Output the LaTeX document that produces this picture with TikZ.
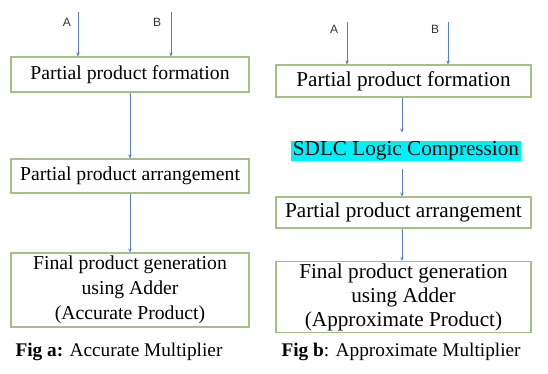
\documentclass[tikz,border=0pt]{standalone}
\usepackage{fontspec}
\setmainfont{Liberation Serif}
\newfontfamily\labelfont{Liberation Sans}
\usetikzlibrary{arrows.meta}
\definecolor{boxgreen}{RGB}{165,192,135}
\definecolor{arrowblue}{RGB}{90,125,200}
\definecolor{hilite}{RGB}{0,240,250}
\tikzset{
  stagebox/.style={draw=boxgreen, line width=1.1pt, align=center, inner sep=2pt, text=black},
  lefttext/.style={font=\fontsize{19.7}{25}\selectfont},
  righttext/.style={font=\fontsize{21.2}{24}\selectfont},
  flow/.style={draw=arrowblue, line width=0.9pt, -{Stealth[length=4pt,width=3.5pt]}},
  inlabel/.style={font=\labelfont\fontsize{12}{14}\selectfont, text=black!80},
  caption/.style={font=\fontsize{19.3}{22}\selectfont, text=black, anchor=west}
}
\begin{document}
\begin{tikzpicture}[x=1pt,y=-1pt]
\useasboundingbox[fill=white] (0,0) rectangle (548,374);

% Fig a: accurate multiplier
\node[stagebox, lefttext, minimum width=238pt, minimum height=35pt] (la) at (130,74.5) {Partial product formation};
\node[stagebox, lefttext, minimum width=238pt, minimum height=34pt] (lb) at (130,176) {Partial product arrangement};
\node[stagebox, lefttext, minimum width=238pt, minimum height=74pt] (lc) at (130,290) {Final product generation\\using Adder\\(Accurate Product)};
\coordinate (lA) at (78,12);
\coordinate (lB) at (171,12);
\draw[flow] (lA) -- (lA |- la.north);
\draw[flow] (lB) -- (lB |- la.north);
\node[inlabel] (lAl) at (67,22) {A};
\node[inlabel] (lBl) at (157,22) {B};
\draw[flow] (la.south) -- (lb.north);
\draw[flow] (lb.south) -- (lc.north);
\node[caption] (capa) at (12,352) {\textbf{Fig a:} Accurate Multiplier};

% Fig b: approximate multiplier
\node[stagebox, righttext, minimum width=255pt, minimum height=32pt] (ra) at (403.5,81) {Partial product formation};
\node[fill=hilite, inner sep=1pt, minimum width=230pt, minimum height=20pt,
  righttext, text=black] (rs) at (406,151) {SDLC Logic Compression};
\node[stagebox, righttext, minimum width=255pt, minimum height=31pt] (rb) at (403.5,212.5) {Partial product arrangement};
\node[stagebox, righttext, minimum width=255pt, minimum height=66pt] (rc) at (403.5,297) {Final product generation\\using Adder\\(Approximate Product)};
\coordinate (rA) at (347,22);
\coordinate (rB) at (448,22);
\draw[flow] (rA) -- (rA |- ra.north);
\draw[flow] (rB) -- (rB |- ra.north);
\node[inlabel] (rAl) at (334,29) {A};
\node[inlabel] (rBl) at (435,29) {B};
\coordinate (rx) at (402,0);
\draw[flow] (rx |- ra.south) -- ([yshift=8pt]rx |- rs.north);
\draw[flow] ([yshift=-7pt]rx |- rs.south) -- (rx |- rb.north);
\draw[flow] (rx |- rb.south) -- (rx |- rc.north);
\node[caption] (capb) at (278,352) {\textbf{Fig b}: Approximate Multiplier};
\end{tikzpicture}
\end{document}
